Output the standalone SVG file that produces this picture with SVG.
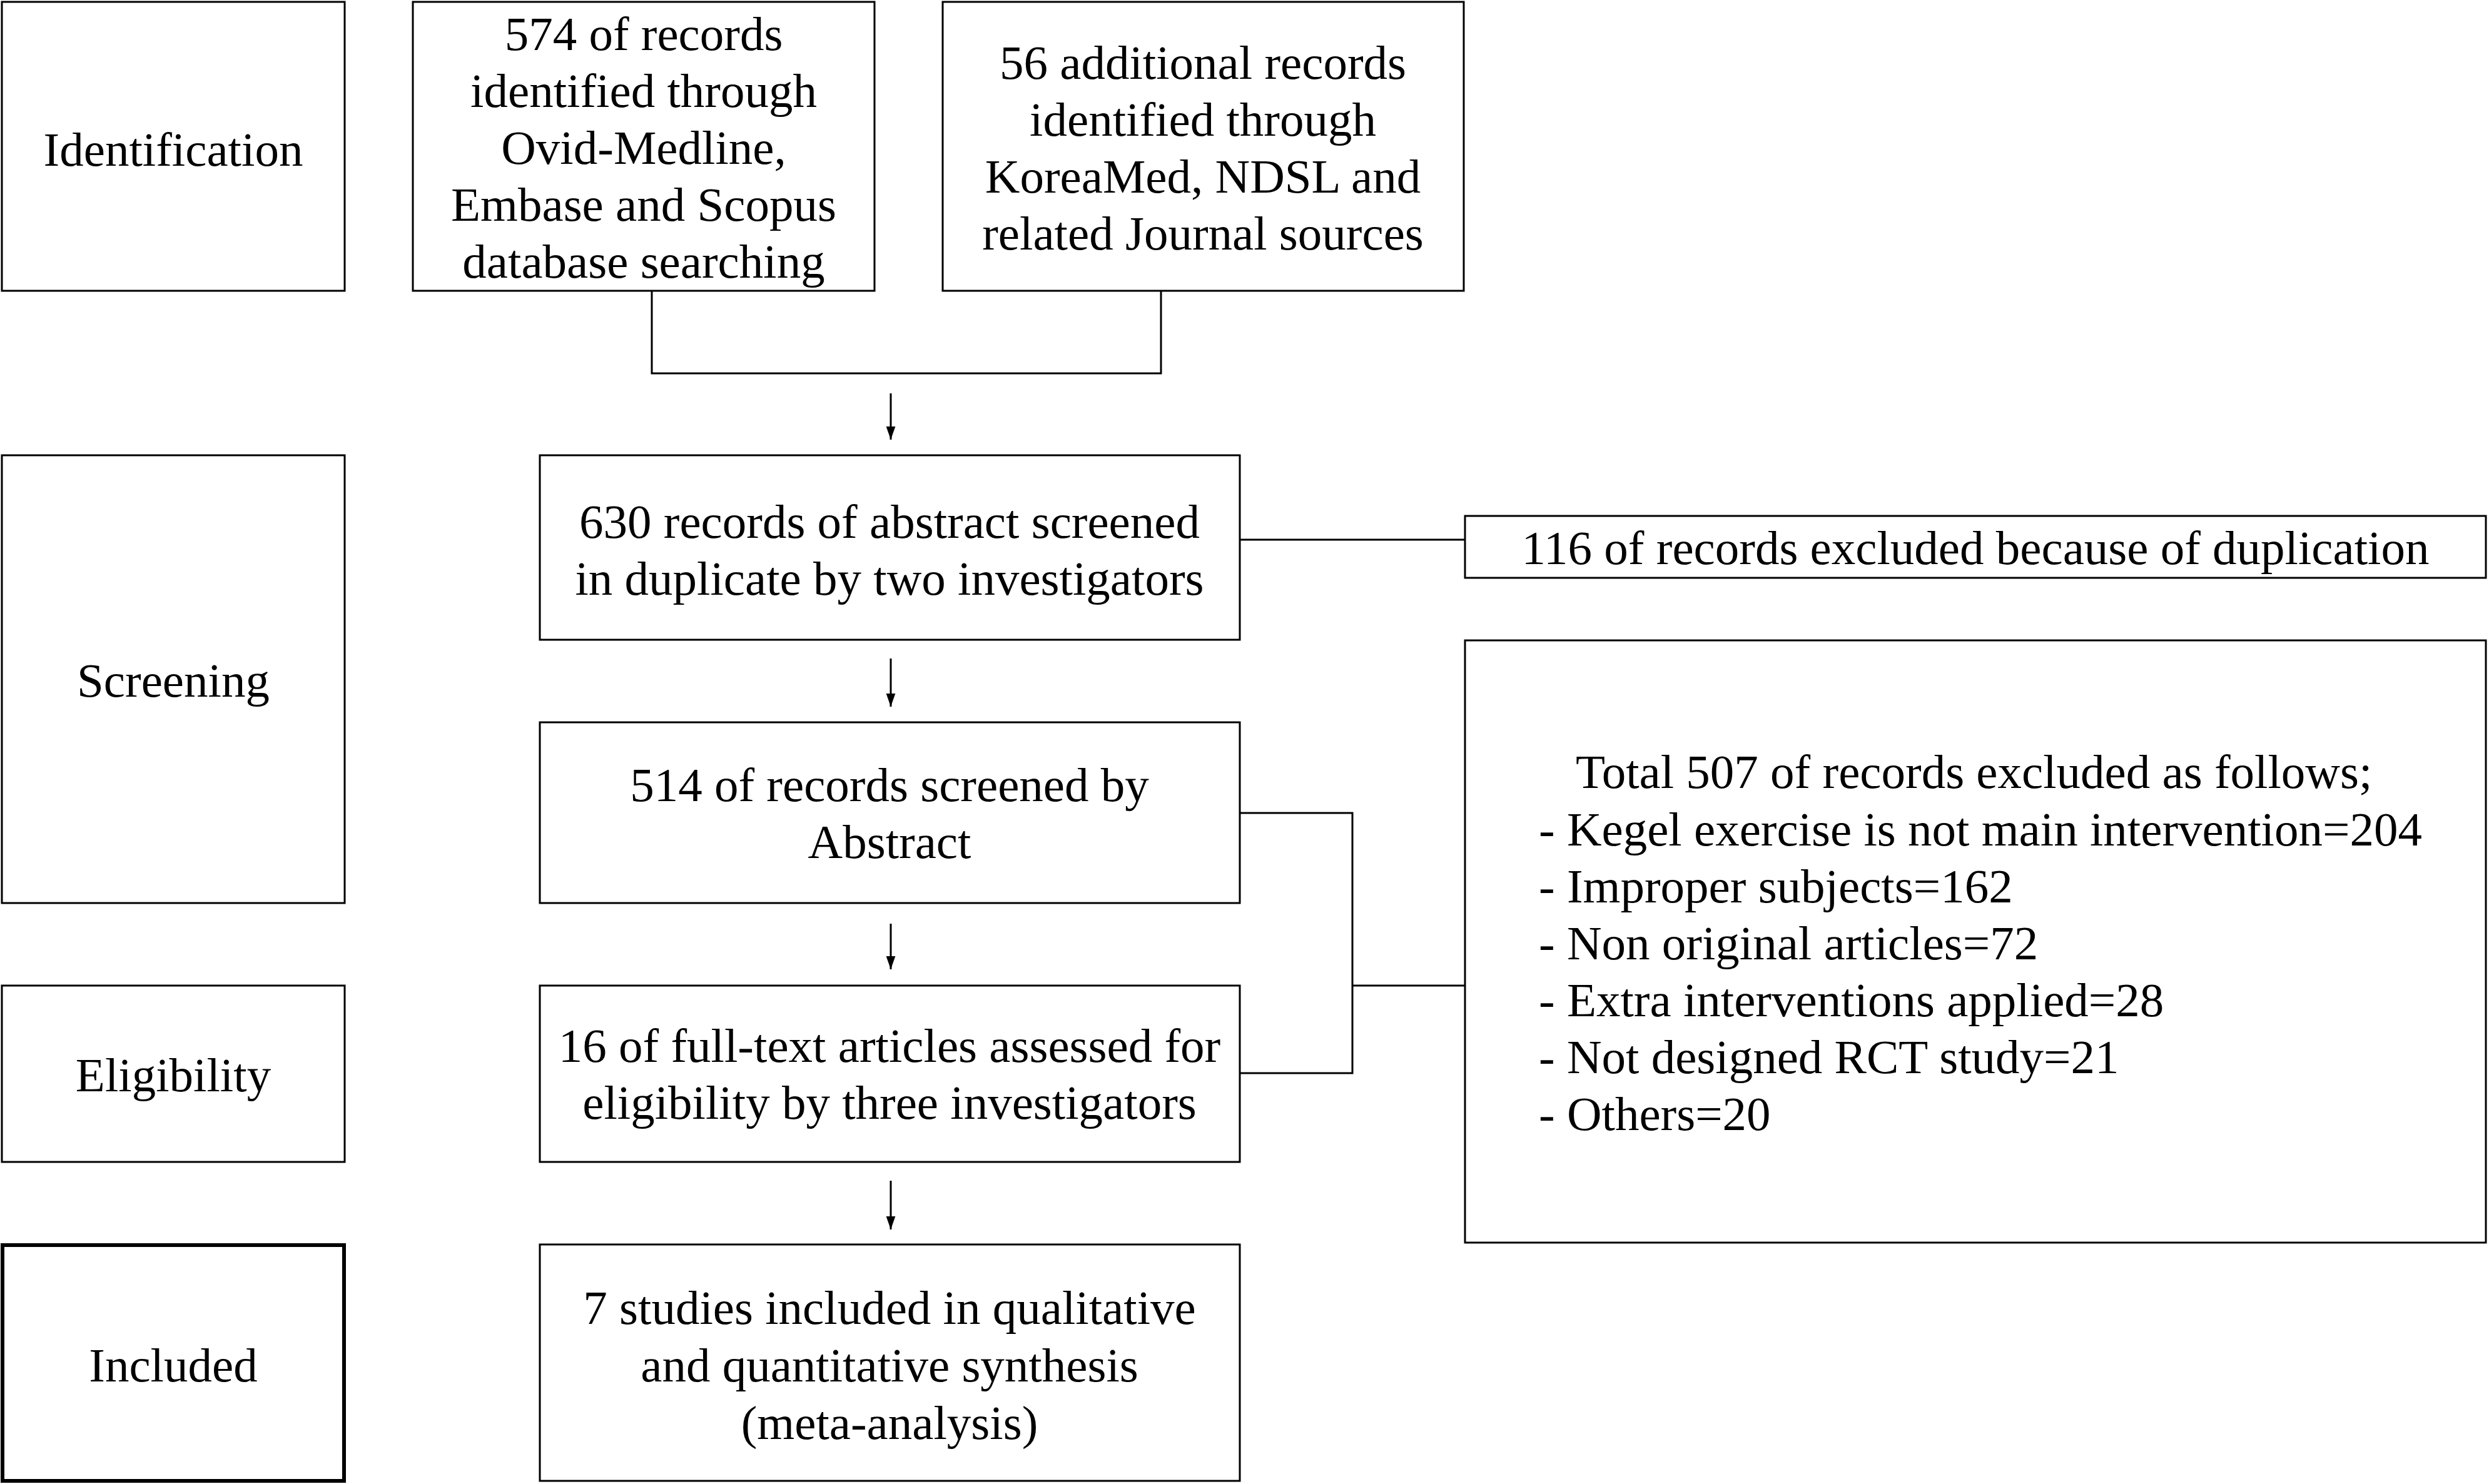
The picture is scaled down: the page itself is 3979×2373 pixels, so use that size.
<svg xmlns="http://www.w3.org/2000/svg" width="3979" height="2373" viewBox="0 0 3979 2373">
<style>
.box{fill:#fff;stroke:#000;stroke-width:3}
.thick{fill:#fff;stroke:#000;stroke-width:6}
.t{font-family:"Liberation Serif","Times New Roman",serif;font-size:77px;fill:#000}
.c{text-anchor:middle}
.ln{fill:none;stroke:#000;stroke-width:3}
</style>
<defs>
<marker id="ah" viewBox="0 0 10 10" refX="10" refY="5" markerWidth="7" markerHeight="7" markerUnits="strokeWidth" orient="auto">
<path d="M0,1.5 L10,5 L0,8.5 Z" fill="#000"/>
</marker>
</defs>
<rect width="3979" height="2373" fill="#fff"/>
<g id="connectors">
<polyline class="ln" points="1042,464 1042,597 1856,597 1856,464"/>
<line class="ln" x1="1424" y1="629" x2="1424" y2="703" marker-end="url(#ah)"/>
<line class="ln" x1="1982" y1="863" x2="2342" y2="863"/>
<line class="ln" x1="1424" y1="1053" x2="1424" y2="1130" marker-end="url(#ah)"/>
<polyline class="ln" points="1982,1300 2162,1300 2162,1716 1982,1716"/>
<line class="ln" x1="2162" y1="1576" x2="2342" y2="1576"/>
<line class="ln" x1="1424" y1="1477" x2="1424" y2="1550" marker-end="url(#ah)"/>
<line class="ln" x1="1424" y1="1888" x2="1424" y2="1966" marker-end="url(#ah)"/>
</g>
<g id="identification">
<rect class="box" x="3" y="3" width="548" height="462"/>
<text class="t c" x="277" y="265">Identification</text>
</g>
<g id="records574">
<rect class="box" x="660" y="3" width="738" height="462"/>
<text class="t c" x="1029" y="80">574 of records</text>
<text class="t c" x="1029" y="171">identified through</text>
<text class="t c" x="1029" y="262">Ovid-Medline,</text>
<text class="t c" x="1029" y="353">Embase and Scopus</text>
<text class="t c" x="1029" y="444">database searching</text>
</g>
<g id="records56">
<rect class="box" x="1507" y="3" width="833" height="462"/>
<text class="t c" x="1923" y="126">56 additional records</text>
<text class="t c" x="1923" y="217">identified through</text>
<text class="t c" x="1923" y="308">KoreaMed, NDSL and</text>
<text class="t c" x="1923" y="399">related Journal sources</text>
</g>
<g id="screening">
<rect class="box" x="3" y="728" width="548" height="716"/>
<text class="t c" x="277" y="1114">Screening</text>
</g>
<g id="records630">
<rect class="box" x="863" y="728" width="1119" height="295"/>
<text class="t c" x="1422" y="860">630 records of abstract screened</text>
<text class="t c" x="1422" y="951">in duplicate by two investigators</text>
</g>
<g id="excluded116">
<rect class="box" x="2342" y="825" width="1632" height="99"/>
<text class="t c" x="3158" y="902">116 of records excluded because of duplication</text>
</g>
<g id="records514">
<rect class="box" x="863" y="1155" width="1119" height="289"/>
<text class="t c" x="1422" y="1281">514 of records screened by</text>
<text class="t c" x="1422" y="1372">Abstract</text>
</g>
<g id="excluded507">
<rect class="box" x="2342" y="1024" width="1632" height="963"/>
<text class="t" x="2519" y="1260">Total 507 of records excluded as follows;</text>
<text class="t" x="2460" y="1352">- Kegel exercise is not main intervention=204</text>
<text class="t" x="2460" y="1443">- Improper subjects=162</text>
<text class="t" x="2460" y="1534">- Non original articles=72</text>
<text class="t" x="2460" y="1625">- Extra interventions applied=28</text>
<text class="t" x="2460" y="1716">- Not designed RCT study=21</text>
<text class="t" x="2460" y="1807">- Others=20</text>
</g>
<g id="eligibility">
<rect class="box" x="3" y="1576" width="548" height="282"/>
<text class="t c" x="277" y="1745">Eligibility</text>
</g>
<g id="fulltext16">
<rect class="box" x="863" y="1576" width="1119" height="282"/>
<text class="t c" x="1422" y="1698">16 of full-text articles assessed for</text>
<text class="t c" x="1422" y="1789">eligibility by three investigators</text>
</g>
<g id="included">
<rect class="thick" x="4" y="1991" width="546" height="377"/>
<text class="t c" x="277" y="2209">Included</text>
</g>
<g id="studies7">
<rect class="box" x="863" y="1990" width="1119" height="378"/>
<text class="t c" x="1422" y="2117">7 studies included in qualitative</text>
<text class="t c" x="1422" y="2209">and quantitative synthesis</text>
<text class="t c" x="1422" y="2301">(meta-analysis)</text>
</g>
</svg>
